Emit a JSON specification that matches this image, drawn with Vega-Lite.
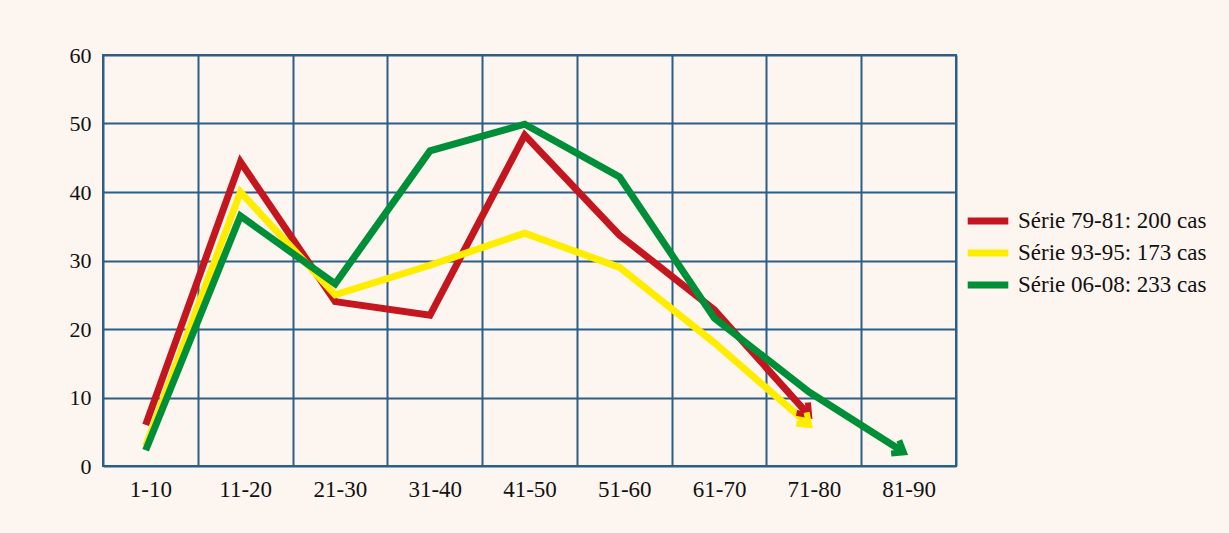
{
  "$schema": "https://vega.github.io/schema/vega-lite/v6.json",
  "width": 853,
  "height": 411,
  "autosize": "none",
  "padding": {"left": 103, "top": 55, "right": 273, "bottom": 67},
  "background": "#fdf5f0",
  "config": {
    "view": {"stroke": "#2b5f86", "strokeWidth": 2},
    "font": "Liberation Serif"
  },
  "data": {
    "values": [
      {"age": "1-10", "serie": "Série 79-81: 200 cas", "pct": 6},
      {"age": "11-20", "serie": "Série 79-81: 200 cas", "pct": 44.4},
      {"age": "21-30", "serie": "Série 79-81: 200 cas", "pct": 24},
      {"age": "31-40", "serie": "Série 79-81: 200 cas", "pct": 22},
      {"age": "41-50", "serie": "Série 79-81: 200 cas", "pct": 48.3},
      {"age": "51-60", "serie": "Série 79-81: 200 cas", "pct": 33.7},
      {"age": "61-70", "serie": "Série 79-81: 200 cas", "pct": 22.8},
      {"age": "71-80", "serie": "Série 79-81: 200 cas", "pct": 7.4},
      {"age": "1-10", "serie": "Série 93-95: 173 cas", "pct": 2.9},
      {"age": "11-20", "serie": "Série 93-95: 173 cas", "pct": 40},
      {"age": "21-30", "serie": "Série 93-95: 173 cas", "pct": 25},
      {"age": "31-40", "serie": "Série 93-95: 173 cas", "pct": 29.3},
      {"age": "41-50", "serie": "Série 93-95: 173 cas", "pct": 34},
      {"age": "51-60", "serie": "Série 93-95: 173 cas", "pct": 29},
      {"age": "61-70", "serie": "Série 93-95: 173 cas", "pct": 18},
      {"age": "71-80", "serie": "Série 93-95: 173 cas", "pct": 6},
      {"age": "1-10", "serie": "Série 06-08: 233 cas", "pct": 2.3},
      {"age": "11-20", "serie": "Série 06-08: 233 cas", "pct": 36.5},
      {"age": "21-30", "serie": "Série 06-08: 233 cas", "pct": 26.6},
      {"age": "31-40", "serie": "Série 06-08: 233 cas", "pct": 46},
      {"age": "41-50", "serie": "Série 06-08: 233 cas", "pct": 49.9},
      {"age": "51-60", "serie": "Série 06-08: 233 cas", "pct": 42.2},
      {"age": "61-70", "serie": "Série 06-08: 233 cas", "pct": 21.6},
      {"age": "71-80", "serie": "Série 06-08: 233 cas", "pct": 10.8},
      {"age": "81-90", "serie": "Série 06-08: 233 cas", "pct": 2}
    ]
  },
  "layer": [
    {
      "mark": {"type": "line", "strokeWidth": 7, "strokeJoin": "miter", "strokeMiterLimit": 10},
      "encoding": {
        "x": {
          "field": "age", "type": "nominal", "bandPosition": 0.45,
          "sort": ["1-10","11-20","21-30","31-40","41-50","51-60","61-70","71-80","81-90"],
          "scale": {"domain": ["1-10","11-20","21-30","31-40","41-50","51-60","61-70","71-80","81-90"], "paddingInner": 0, "paddingOuter": 0},
          "axis": {"title": null, "ticks": false, "domain": false, "grid": true, "tickBand": "extent", "gridColor": "#2b5f86", "gridWidth": 2, "gridOpacity": 1, "labelAngle": 0, "labelFont": "Liberation Serif", "labelFontSize": 23, "labelColor": "#111111", "labelPadding": 12}
        },
        "y": {
          "field": "pct", "type": "quantitative",
          "scale": {"domain": [0, 60], "nice": false},
          "axis": {"title": null, "values": [0,10,20,30,40,50,60], "grid": true, "gridColor": "#2b5f86", "gridWidth": 2, "gridOpacity": 1, "domain": false, "ticks": false, "labelFont": "Liberation Serif", "labelFontSize": 22, "labelColor": "#111111", "labelPadding": 12}
        },
        "color": {
          "field": "serie", "type": "nominal",
          "scale": {"domain": ["Série 79-81: 200 cas", "Série 93-95: 173 cas", "Série 06-08: 233 cas"], "range": ["#c4161f", "#ffed00", "#008f39"]},
          "legend": {"title": null, "orient": "none", "legendX": 867, "legendY": 148, "symbolType": "M-1.4,0L1.4,0", "symbolStrokeWidth": 7, "symbolSize": 841, "labelFont": "Liberation Serif", "labelFontSize": 23, "labelColor": "#111111", "labelOffset": 12, "rowPadding": -3, "labelLimit": 300}
        },
        "order": {"field": "serie", "sort": "descending"}
      }
    },
    {
      "transform": [{"filter": "datum.serie === 'Série 79-81: 200 cas' && datum.age === '71-80'"}],
      "mark": {"type": "point", "shape": "M-1,-0.75L0,0L-1,0.75", "filled": false, "strokeWidth": 6, "size": 420, "angle": 48, "opacity": 1, "color": "#c4161f", "strokeJoin": "miter"},
      "encoding": {
        "x": {"field": "age", "type": "nominal", "bandPosition": 0.45},
        "y": {"field": "pct", "type": "quantitative"}
      }
    },
    {
      "transform": [{"filter": "datum.serie === 'Série 93-95: 173 cas' && datum.age === '71-80'"}],
      "mark": {"type": "point", "shape": "M-1,-0.75L0,0L-1,0.75", "filled": false, "strokeWidth": 6, "size": 420, "angle": 42, "opacity": 1, "color": "#ffed00", "strokeJoin": "miter"},
      "encoding": {
        "x": {"field": "age", "type": "nominal", "bandPosition": 0.45},
        "y": {"field": "pct", "type": "quantitative"}
      }
    },
    {
      "transform": [{"filter": "datum.serie === 'Série 06-08: 233 cas' && datum.age === '81-90'"}],
      "mark": {"type": "point", "shape": "M-1,-0.75L0,0L-1,0.75", "filled": false, "strokeWidth": 6, "size": 420, "angle": 32, "opacity": 1, "color": "#008f39", "strokeJoin": "miter"},
      "encoding": {
        "x": {"field": "age", "type": "nominal", "bandPosition": 0.45},
        "y": {"field": "pct", "type": "quantitative"}
      }
    }
  ]
}
